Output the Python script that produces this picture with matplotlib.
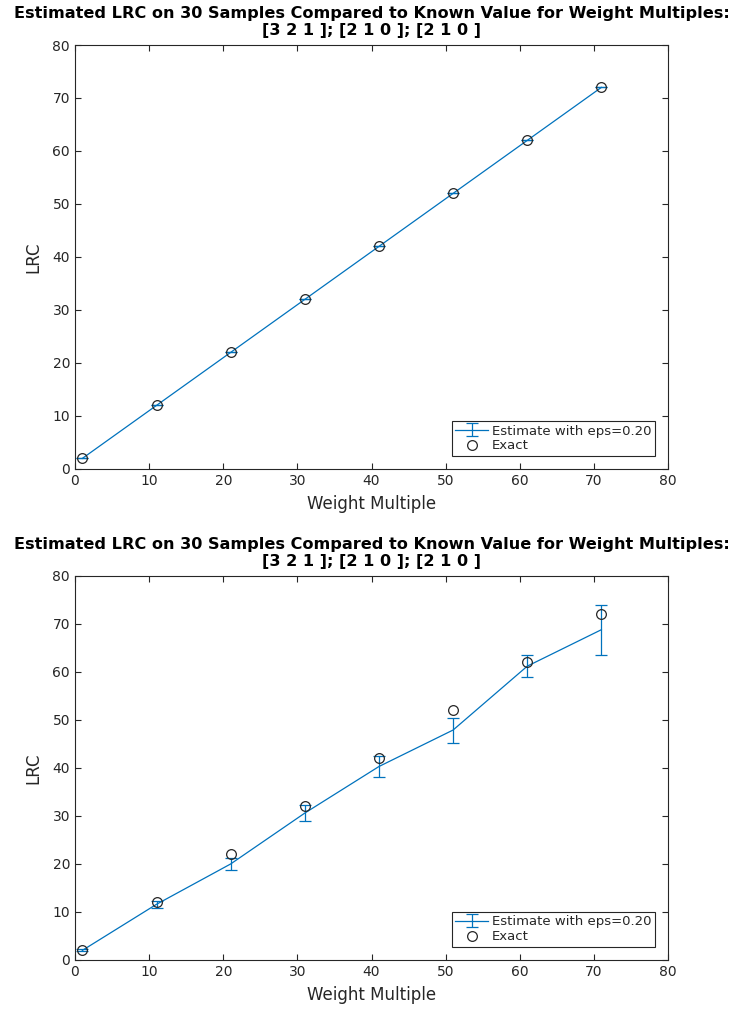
import matplotlib
matplotlib.use("Agg")
import matplotlib.pyplot as plt

# weight multiples and the known LRC at each
weight_multiple = [1, 11, 21, 31, 41, 51, 61, 71]
exact_lrc = [2, 12, 22, 32, 42, 52, 62, 72]

# run 1: estimates land on the exact values
est_run1 = [2, 12, 22, 32, 42, 52, 62, 72]
err_run1 = [0, 0, 0, 0, 0, 0, 0, 0]

# run 2: estimates with error bars
est_run2 = [2.0, 11.6, 20.0, 30.6, 40.3, 47.9, 61.2, 68.8]
err_run2 = [0.2, 0.7, 1.3, 1.6, 2.2, 2.6, 2.3, 5.2]

title_txt = ("Estimated LRC on 30 Samples Compared to Known Value for Weight Multiples:\n"
             "[3 2 1 ]; [2 1 0 ]; [2 1 0 ]")
eps_label = "Estimate with eps=0.20"

blue = "#0072BD"
axcol = "#262626"

plt.rcParams["font.family"] = "DejaVu Sans"

fig = plt.figure(figsize=(7.35, 10.09), dpi=100)
ax1 = fig.add_axes([0.102, 0.5352, 0.807, 0.4202])
ax2 = fig.add_axes([0.102, 0.0486, 0.807, 0.3806])


def draw_panel(ax, est, err):
    eb = ax.errorbar(weight_multiple, est, yerr=err, color=blue, lw=0.9,
                     elinewidth=0.9, capsize=4, capthick=0.9, zorder=2)
    ex, = ax.plot(weight_multiple, exact_lrc, "o", ms=7, mfc="none", mec=axcol,
                  mew=0.9, zorder=3)
    ax.set_xlim(0, 80)
    ax.set_ylim(0, 80)
    ax.set_xticks(range(0, 81, 10))
    ax.set_yticks(range(0, 81, 10))
    ax.tick_params(direction="in", length=4, width=0.8, colors=axcol,
                   labelsize=10, top=True, right=True)
    for sp in ax.spines.values():
        sp.set_color(axcol)
        sp.set_linewidth(0.8)
    ax.set_xlabel("Weight Multiple", fontsize=12, color=axcol, labelpad=5)
    ax.set_ylabel("LRC", fontsize=12, color=axcol, labelpad=7)
    ax.set_title(title_txt, fontsize=11.6, fontweight="bold", color="black",
                 pad=7, linespacing=1.22)
    leg = ax.legend([eb, ex], [eps_label, "Exact"], loc="lower right",
                    fontsize=9.5, frameon=True, fancybox=False,
                    edgecolor=axcol, framealpha=1, borderaxespad=1.0,
                    handlelength=2.5, handletextpad=0.3, borderpad=0.25,
                    labelspacing=0.15)
    leg.get_frame().set_linewidth(0.8)
    for t in leg.get_texts():
        t.set_color(axcol)


draw_panel(ax1, est_run1, err_run1)
draw_panel(ax2, est_run2, err_run2)

fig.savefig("out.png", dpi=100)
